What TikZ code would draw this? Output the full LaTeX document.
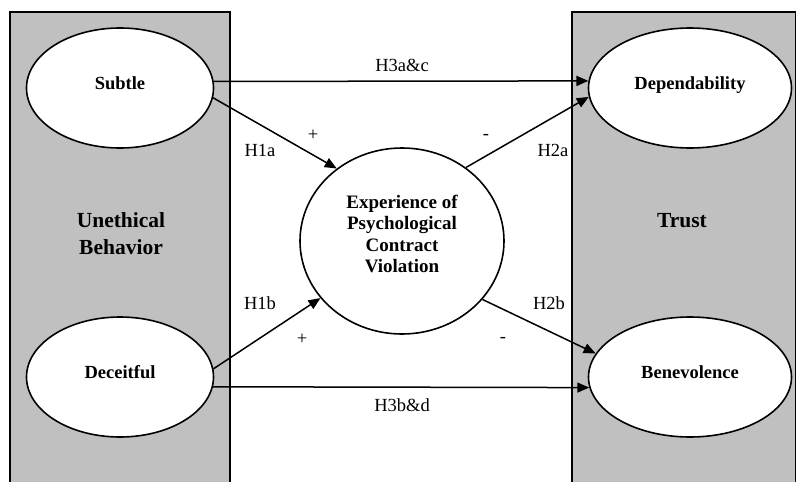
\documentclass[tikz,border=0pt]{standalone}
\usepackage{fontspec}
\setmainfont{Liberation Serif}
\usepackage{tikz}
\usetikzlibrary{positioning,shapes.geometric,arrows.meta,calc}
\definecolor{ink}     {HTML}{000000}
\definecolor{panelgray}{HTML}{C0C0C0}
\tikzset{
  >=stealth,
  % --- nodes
  construct/.style = {ellipse, draw=ink, line width=1.6pt, fill=white, align=center,
                      inner sep=0pt, font=\fontsize{18.5}{21.5}\selectfont\bfseries,
                      text depth=10pt},
  sub/.style       = {construct, minimum width=187pt, minimum height=120pt},
  tru/.style       = {construct, minimum width=203pt, minimum height=120pt},
  big/.style       = {font=\fontsize{21.5}{27}\selectfont\bfseries, align=center, inner sep=0pt},
  hyp/.style       = {font=\fontsize{18.5}{22}\selectfont, inner sep=0pt},
  % --- edges
  e/.style         = {-{Triangle[length=12pt,width=10pt]}, line width=1.5pt, draw=ink},
  panel/.style     = {draw=ink, line width=1.6pt, fill=panelgray},
}
\begin{document}
\begin{tikzpicture}[x=1pt,y=-1pt]
  \useasboundingbox (0,0) rectangle (796,482);
  % panels
  \path[panel] (10,482) -- (10,12) -- (230,12) -- (230,482);
  \path[panel] (572,482) -- (572,12) -- (796,12) -- (796,482);
  \node[big] (ub) at (121,233.5) {Unethical\\Behavior};
  \node[big] (tr) at (682,221) {Trust};
  % constructs
  \node[sub] (subtle) at (120,88) {Subtle};
  \node[sub] (deceit) at (120,377) {Deceitful};
  \node[tru] (depend) at (690,88) {Dependability};
  \node[tru] (benev) at (690,377) {Benevolence};
  \node[construct, minimum width=204pt, minimum height=186pt, text depth=14pt,
        font=\fontsize{19}{21.5}\selectfont\bfseries] (viol) at (402,241)
        {Experience of\\Psychological\\Contract\\Violation};
  % paths
  \draw[e] (subtle.4) -- (depend.176);
  \draw[e] (deceit.-6) -- (benev.186);
  \draw[e] (subtle.-6) -- (viol.132);
  \draw[e] (deceit.5) -- (viol.215);
  \draw[e] (viol.49) -- (depend.185);
  \draw[e] (viol.-36) -- (benev.166);
  % labels
  \node[hyp] (h3ac) at (402,65) {H3a\&c};
  \node[hyp] (h1a) at (260,150) {H1a};
  \node[hyp] (p1a) at (313,135) {+};
  \node[hyp] (m2a) at (486,137) {-};
  \node[hyp] (h2a) at (553,150) {H2a};
  \node[hyp] (h1b) at (260,303) {H1b};
  \node[hyp] (p1b) at (302,339) {+};
  \node[hyp] (m2b) at (503,340) {-};
  \node[hyp] (h2b) at (549,303) {H2b};
  \node[hyp] (h3bd) at (402,405) {H3b\&d};
\end{tikzpicture}
\end{document}
